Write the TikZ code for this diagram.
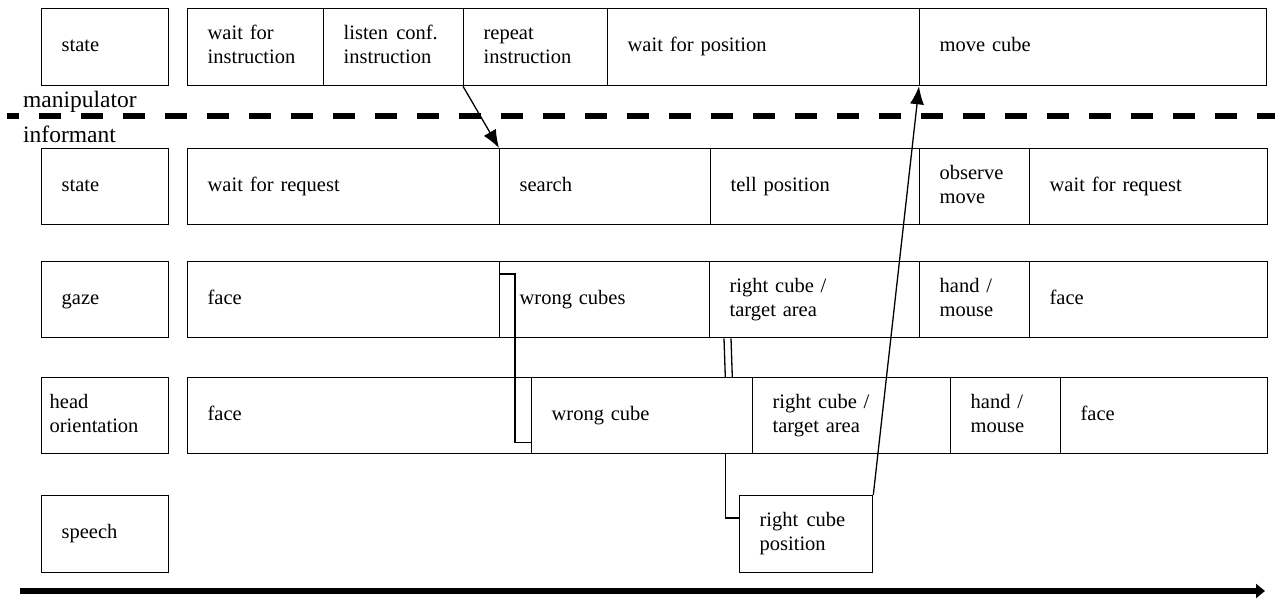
\documentclass[tikz,border=0pt]{standalone}
\usepackage{fontspec}
\setmainfont{Liberation Serif}
\usetikzlibrary{arrows.meta,calc}
\tikzset{
  cellbox/.style={draw, line width=1.3pt, rectangle, anchor=north west, inner ysep=0pt, align=left,
    font=\fontsize{20.5}{24}\selectfont,
    execute at begin node={\strut}, execute at end node={\strut}},
  lbl/.style={anchor=base west, inner sep=0pt, font=\fontsize{23.5}{28}\selectfont},
  conn/.style={line width=1.3pt},
  tipconn/.style={line width=1.3pt, -{Latex[length=18pt,width=14pt]}},
  sepline/.style={line width=5.5pt, dash pattern=on 22pt off 20pt, dash phase=10pt},
  timeline/.style={line width=6.5pt, -{Triangle[length=9pt,width=14pt]}}
}
\newcommand\mycell[7][20]{%
  \pgfmathsetmacro\mycw{#4-#3}%
  \pgfmathsetmacro\mych{#6-#5}%
  \pgfmathsetmacro\mytw{#4-#3-2*#1}%
  \node[cellbox, inner xsep=#1pt, minimum width=\mycw pt, minimum height=\mych pt, text width=\mytw pt] (#2) at (#3,#5) {#7};}
\begin{document}
\begin{tikzpicture}[x=1pt,y=-1pt]
\useasboundingbox (0,0) rectangle (1275,599);
% manipulator row
\mycell{ms}{41}{168}{8}{85}{state}
\mycell{m1}{187}{323}{8}{85}{wait for\\instruction}
\mycell{m2}{323}{463}{8}{85}{listen\hspace{0.4em}conf.\\instruction}
\mycell{m3}{463}{607}{8}{85}{repeat\\instruction}
\mycell{m4}{607}{919}{8}{85}{wait for position}
\mycell{m5}{919}{1266}{8}{85}{move cube}
% labels and separator
\node[lbl] (manip) at (23,108) {manipulator};
\node[lbl] (inform) at (23,143) {informant};
\coordinate (sepL) at (7,116);
\coordinate (sepR) at (1275,116);
\draw[sepline] (sepL) -- (sepR);
% informant state
\mycell{is}{41}{168}{148}{224}{state}
\mycell{i1}{187}{499}{148}{224}{wait for request}
\mycell{i2}{499}{710}{148}{224}{search}
\mycell{i3}{710}{919}{148}{224}{tell position}
\mycell{i4}{919}{1029}{148}{224}{observe\\move}
\mycell{i5}{1029}{1267}{148}{224}{wait for request}
% gaze
\mycell{gs}{41}{168}{261}{337}{gaze}
\mycell{g1}{187}{499}{261}{337}{face}
\mycell{g2}{499}{709}{261}{337}{wrong cubes}
\mycell{g3}{709}{919}{261}{337}{right cube /\\target area}
\mycell{g4}{919}{1029}{261}{337}{hand /\\mouse}
\mycell{g5}{1029}{1267}{261}{337}{face}
% head orientation
\mycell[8]{hs}{41}{168}{377}{453}{head\\orientation}
\mycell{h1}{187}{531}{377}{453}{face}
\mycell{h2}{531}{752}{377}{453}{wrong cube}
\mycell{h3}{752}{950}{377}{453}{right cube /\\target area}
\mycell{h4}{950}{1060}{377}{453}{hand /\\mouse}
\mycell{h5}{1060}{1267}{377}{453}{face}
% speech
\mycell{ss}{41}{168}{495}{572}{speech}
\mycell{sp}{739}{872}{495}{572}{right\hspace{0.4em}cube\\position}
% connectors
\draw[tipconn] (m3.south west) -- (i2.north west);
\draw[tipconn] (sp.north east) -- (m5.south west);
\draw[conn] ($(g2.north west)+(0,13)$) -- ++(16,0) |- ($(h2.south west)+(0,-12)$);
\draw[conn] ($(g3.south west)+(15,0)$) -- ($(h2.north east)+(-28,0)$);
\draw[conn] ($(g3.south west)+(22,0)$) -- ($(h2.north east)+(-21,0)$);
\draw[conn] ($(h2.south east)+(-28,0)$) |- ($(sp.north west)+(0,23)$);
% time axis
\coordinate (tL) at (20,591);
\coordinate (tR) at (1265,591);
\draw[timeline] (tL) -- (tR);
\end{tikzpicture}
\end{document}
